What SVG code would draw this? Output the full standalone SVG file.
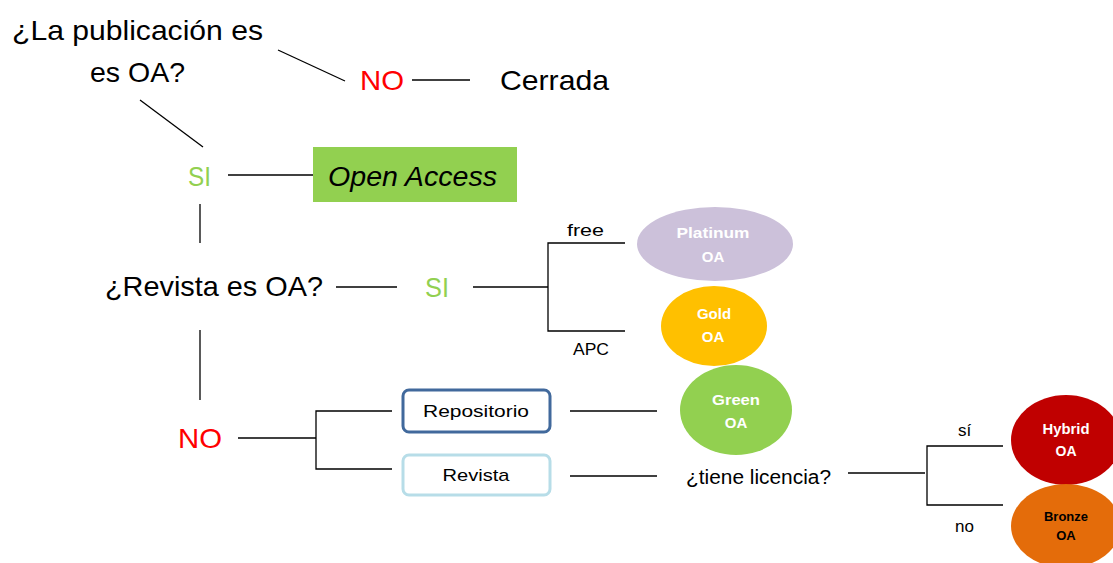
<svg xmlns="http://www.w3.org/2000/svg" width="1113" height="563" viewBox="0 0 1113 563">
  <style>
    text { font-family: "Liberation Sans", Arial, sans-serif; }
    .big { font-size: 28px; fill: #000; }
    .red { fill: #ff0000; }
    .grn { fill: #92d050; }
    .mid { font-size: 17px; fill: #000; }
    .lbl { font-size: 15px; font-weight: bold; fill: #fff; text-anchor: middle; }
    .wire { stroke: #000; stroke-width: 1.3; fill: none; }
  </style>
  <rect width="1113" height="563" fill="#fff"/>

  <g id="connectors">
    <line class="wire" x1="278" y1="50" x2="345" y2="81"/>
    <line class="wire" x1="412" y1="80" x2="470" y2="80"/>
    <line class="wire" x1="140" y1="100" x2="203" y2="147"/>
    <line class="wire" x1="228" y1="175" x2="315" y2="175"/>
    <line class="wire" x1="200" y1="204" x2="200" y2="243"/>
    <line class="wire" x1="336" y1="287" x2="397" y2="287"/>
    <line class="wire" x1="473" y1="287" x2="548" y2="287"/>
    <path class="wire" d="M625 243 H548 V331 H625"/>
    <line class="wire" x1="200" y1="330" x2="200" y2="400"/>
    <line class="wire" x1="238" y1="438" x2="316" y2="438"/>
    <path class="wire" d="M392 411 H316 V469 H392"/>
    <line class="wire" x1="570" y1="411" x2="657" y2="411"/>
    <line class="wire" x1="570" y1="476" x2="657" y2="476"/>
    <line class="wire" x1="848" y1="473" x2="925" y2="473"/>
    <path class="wire" d="M1003 446 H927 V505 H1003"/>
  </g>

  <g id="q-publicacion">
    <text class="big" x="12" y="40" textLength="251" lengthAdjust="spacingAndGlyphs">¿La publicación es</text>
    <text class="big" x="90" y="82" textLength="95" lengthAdjust="spacingAndGlyphs">es OA?</text>
  </g>
  <g id="no-1"><text class="big red" x="360" y="90" textLength="44" lengthAdjust="spacingAndGlyphs">NO</text></g>
  <g id="cerrada"><text class="big" x="500" y="90" textLength="109" lengthAdjust="spacingAndGlyphs">Cerrada</text></g>
  <g id="si-1"><text class="big grn" x="188" y="186" textLength="23" lengthAdjust="spacingAndGlyphs">SI</text></g>
  <g id="open-access">
    <rect x="313" y="147" width="204" height="55" fill="#92d050"/>
    <text class="big" x="328" y="186" font-style="italic" textLength="169" lengthAdjust="spacingAndGlyphs">Open Access</text>
  </g>
  <g id="q-revista"><text class="big" x="105" y="296" textLength="218" lengthAdjust="spacingAndGlyphs">¿Revista es OA?</text></g>
  <g id="si-2"><text class="big grn" x="425" y="297" textLength="24" lengthAdjust="spacingAndGlyphs">SI</text></g>
  <g id="lbl-free"><text class="mid" x="567" y="236" textLength="37" lengthAdjust="spacingAndGlyphs">free</text></g>
  <g id="lbl-apc"><text class="mid" x="573" y="355" textLength="36" lengthAdjust="spacingAndGlyphs">APC</text></g>
  <g id="platinum">
    <ellipse cx="715" cy="244" rx="78" ry="37" fill="#ccc1da"/>
    <text class="lbl" x="713" y="238" textLength="73" lengthAdjust="spacingAndGlyphs">Platinum</text>
    <text class="lbl" x="713" y="262">OA</text>
  </g>
  <g id="gold">
    <ellipse cx="714" cy="326" rx="53" ry="40" fill="#ffc000"/>
    <text class="lbl" x="714" y="319">Gold</text>
    <text class="lbl" x="713" y="342">OA</text>
  </g>
  <g id="no-2"><text class="big red" x="178" y="448" textLength="44" lengthAdjust="spacingAndGlyphs">NO</text></g>
  <g id="repositorio">
    <rect x="403" y="390" width="147" height="42" rx="6" fill="#fff" stroke="#41699c" stroke-width="3"/>
    <text class="mid" x="476" y="417" text-anchor="middle" textLength="106" lengthAdjust="spacingAndGlyphs">Repositorio</text>
  </g>
  <g id="revista">
    <rect x="403" y="455" width="147" height="40" rx="6" fill="#fff" stroke="#b7dde8" stroke-width="3"/>
    <text class="mid" x="476" y="481" text-anchor="middle" textLength="67" lengthAdjust="spacingAndGlyphs">Revista</text>
  </g>
  <g id="green">
    <ellipse cx="736" cy="410" rx="56" ry="45" fill="#92d050"/>
    <text class="lbl" x="736" y="405" textLength="48" lengthAdjust="spacingAndGlyphs">Green</text>
    <text class="lbl" x="736" y="428">OA</text>
  </g>
  <g id="q-licencia"><text class="big" x="686" y="484" style="font-size:20px" textLength="145" lengthAdjust="spacingAndGlyphs">¿tiene licencia?</text></g>
  <g id="lbl-si"><text class="mid" x="958" y="436">sí</text></g>
  <g id="lbl-no"><text class="mid" x="955" y="532">no</text></g>
  <g id="hybrid">
    <ellipse cx="1066" cy="440" rx="55" ry="45" fill="#c00000"/>
    <text class="lbl" x="1066" y="434" style="font-size:14px" textLength="47" lengthAdjust="spacingAndGlyphs">Hybrid</text>
    <text class="lbl" x="1066" y="456" style="font-size:14px">OA</text>
  </g>
  <g id="bronze">
    <ellipse cx="1066" cy="526" rx="55" ry="42" fill="#e46c0a"/>
    <text class="lbl" x="1066" y="521" style="font-size:13px;fill:#000" textLength="44" lengthAdjust="spacingAndGlyphs">Bronze</text>
    <text class="lbl" x="1066" y="540" style="font-size:13px;fill:#000">OA</text>
  </g>
</svg>
